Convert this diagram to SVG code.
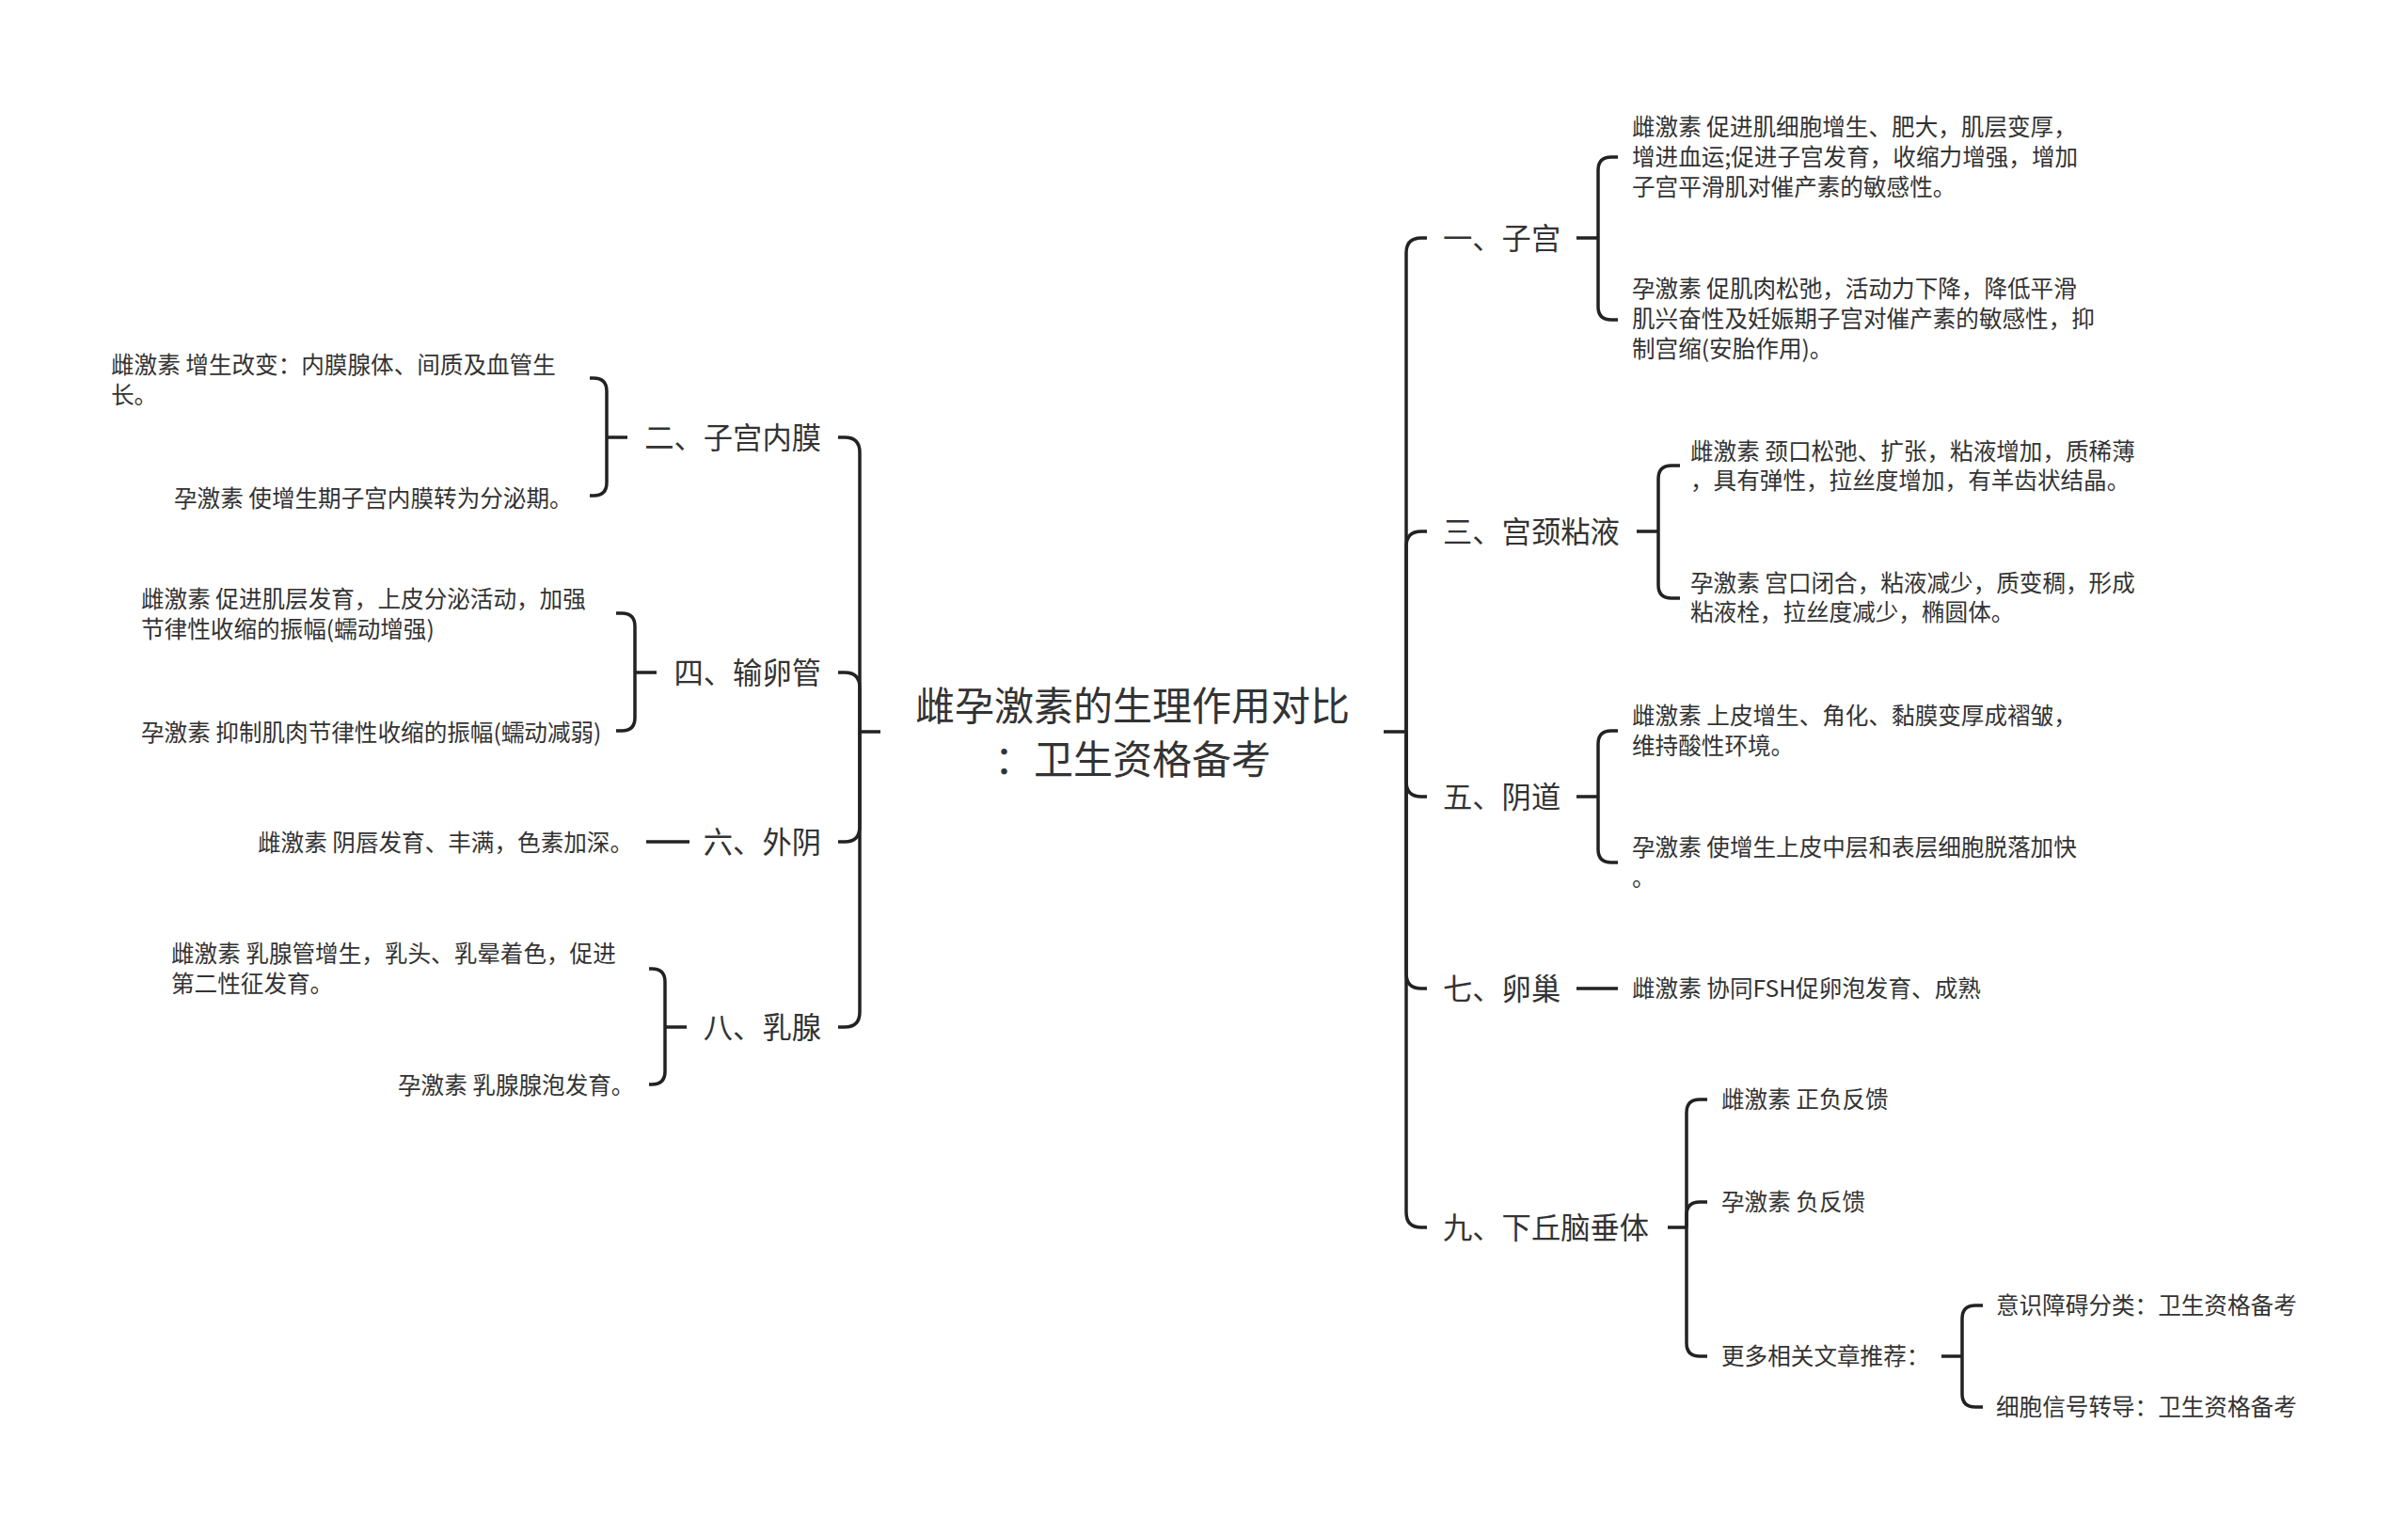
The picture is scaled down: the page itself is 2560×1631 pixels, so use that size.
<svg xmlns="http://www.w3.org/2000/svg" width="2560" height="1631" viewBox="0 0 2560 1631">
<style>
.bg{fill:#ffffff}
.c{fill:none;stroke:#222222;stroke-width:3.5;stroke-linecap:butt}
text{font-family:"Noto Sans CJK SC","Noto Sans",sans-serif;fill:#333333}
.root{font-size:42px;text-anchor:middle}
.n{font-size:31.3px}
.nl{font-size:31.3px;text-anchor:end}
.l{font-size:24.6px}
</style>
<rect class="bg" x="0" y="0" width="2560" height="1631"/>
<g id="connectors">
<path class="c" d="M936 778H914"/>
<path class="c" d="M1471 778H1495"/>
<path class="c" d="M914 778V481Q914 465 898 465H891"/>
<path class="c" d="M914 778V731Q914 715 898 715H891"/>
<path class="c" d="M914 778V879Q914 895 898 895H891"/>
<path class="c" d="M914 778V1076Q914 1092 898 1092H891"/>
<path class="c" d="M1495 778V269Q1495 253 1511 253H1517"/>
<path class="c" d="M1495 778V581Q1495 565 1511 565H1517"/>
<path class="c" d="M1495 778V831Q1495 847 1511 847H1517"/>
<path class="c" d="M1495 778V1035Q1495 1051 1511 1051H1517"/>
<path class="c" d="M1495 778V1289Q1495 1305 1511 1305H1517"/>
<path class="c" d="M667 465H645"/>
<path class="c" d="M645 465V416Q645 402 631 402H627"/>
<path class="c" d="M645 465V513Q645 527 631 527H627"/>
<path class="c" d="M698 715H675"/>
<path class="c" d="M675 715V666Q675 652 661 652H655"/>
<path class="c" d="M675 715V763Q675 777 661 777H655"/>
<path class="c" d="M733 895H687"/>
<path class="c" d="M730 1092H707"/>
<path class="c" d="M707 1092V1044Q707 1030 693 1030H690"/>
<path class="c" d="M707 1092V1139Q707 1153 693 1153H690"/>
<path class="c" d="M1676 253H1699"/>
<path class="c" d="M1699 253V181Q1699 167 1713 167H1720"/>
<path class="c" d="M1699 253V326Q1699 340 1713 340H1720"/>
<path class="c" d="M1740 565H1763"/>
<path class="c" d="M1763 565V509Q1763 495 1777 495H1786"/>
<path class="c" d="M1763 565V622Q1763 636 1777 636H1786"/>
<path class="c" d="M1676 847H1699"/>
<path class="c" d="M1699 847V791Q1699 777 1713 777H1720"/>
<path class="c" d="M1699 847V903Q1699 917 1713 917H1720"/>
<path class="c" d="M1676 1051H1720"/>
<path class="c" d="M1773 1305H1793"/>
<path class="c" d="M1793 1305V1183Q1793 1169 1807 1169H1815"/>
<path class="c" d="M1793 1305V1292Q1793 1278 1807 1278H1815"/>
<path class="c" d="M1793 1305V1428Q1793 1442 1807 1442H1815"/>
<path class="c" d="M2064 1442H2086"/>
<path class="c" d="M2086 1442V1402Q2086 1388 2100 1388H2108"/>
<path class="c" d="M2086 1442V1482Q2086 1496 2100 1496H2108"/>
</g>
<g id="root"><text class="root" x="1204" y="766">雌孕激素的生理作用对比</text><text class="root" x="1204" y="823">：卫生资格备考</text></g>
<g id="n2"><text class="nl" x="873" y="477">二、子宫内膜</text></g>
<g id="n2a"><text class="l" x="118" y="397"><tspan x="118">雌激素 增生改变：内膜腺体、间质及血管生</tspan><tspan x="118" dy="32">长。</tspan></text></g>
<g id="n2b"><text class="l" x="185" y="539">孕激素 使增生期子宫内膜转为分泌期。</text></g>
<g id="n4"><text class="nl" x="873" y="727">四、输卵管</text></g>
<g id="n4a"><text class="l" x="150" y="646"><tspan x="150">雌激素 促进肌层发育，上皮分泌活动，加强</tspan><tspan x="150" dy="32">节律性收缩的振幅(蠕动增强)</tspan></text></g>
<g id="n4b"><text class="l" x="150" y="788">孕激素 抑制肌肉节律性收缩的振幅(蠕动减弱)</text></g>
<g id="n6"><text class="nl" x="873" y="907">六、外阴</text></g>
<g id="n6a"><text class="l" x="274" y="905">雌激素 阴唇发育、丰满，色素加深。</text></g>
<g id="n8"><text class="nl" x="873" y="1104">八、乳腺</text></g>
<g id="n8a"><text class="l" x="182" y="1023"><tspan x="182">雌激素 乳腺管增生，乳头、乳晕着色，促进</tspan><tspan x="182" dy="32">第二性征发育。</tspan></text></g>
<g id="n8b"><text class="l" x="423" y="1163">孕激素 乳腺腺泡发育。</text></g>
<g id="n1"><text class="n" x="1534" y="265">一、子宫</text></g>
<g id="n1a"><text class="l" x="1735" y="144"><tspan x="1735">雌激素 促进肌细胞增生、肥大，肌层变厚，</tspan><tspan x="1735" dy="32">增进血运;促进子宫发育，收缩力增强，增加</tspan><tspan x="1735" dy="32">子宫平滑肌对催产素的敏感性。</tspan></text></g>
<g id="n1b"><text class="l" x="1735" y="316"><tspan x="1735">孕激素 促肌肉松弛，活动力下降，降低平滑</tspan><tspan x="1735" dy="32">肌兴奋性及妊娠期子宫对催产素的敏感性，抑</tspan><tspan x="1735" dy="32">制宫缩(安胎作用)。</tspan></text></g>
<g id="n3"><text class="n" x="1534" y="577">三、宫颈粘液</text></g>
<g id="n3a"><text class="l" x="1797" y="489"><tspan x="1797">雌激素 颈口松弛、扩张，粘液增加，质稀薄</tspan><tspan x="1797" dy="31">，具有弹性，拉丝度增加，有羊齿状结晶。</tspan></text></g>
<g id="n3b"><text class="l" x="1797" y="629"><tspan x="1797">孕激素 宫口闭合，粘液减少，质变稠，形成</tspan><tspan x="1797" dy="31">粘液栓，拉丝度减少，椭圆体。</tspan></text></g>
<g id="n5"><text class="n" x="1534" y="859">五、阴道</text></g>
<g id="n5a"><text class="l" x="1735" y="770"><tspan x="1735">雌激素 上皮增生、角化、黏膜变厚成褶皱，</tspan><tspan x="1735" dy="32">维持酸性环境。</tspan></text></g>
<g id="n5b"><text class="l" x="1735" y="910"><tspan x="1735">孕激素 使增生上皮中层和表层细胞脱落加快</tspan><tspan x="1735" dy="32">。</tspan></text></g>
<g id="n7"><text class="n" x="1534" y="1063">七、卵巢</text></g>
<g id="n7a"><text class="l" x="1735" y="1060">雌激素 协同FSH促卵泡发育、成熟</text></g>
<g id="n9"><text class="n" x="1534" y="1317">九、下丘脑垂体</text></g>
<g id="n9a"><text class="l" x="1830" y="1178">雌激素 正负反馈</text></g>
<g id="n9b"><text class="l" x="1830" y="1287">孕激素 负反馈</text></g>
<g id="n9c"><text class="l" x="1830" y="1451">更多相关文章推荐：</text></g>
<g id="n9c1"><text class="l" x="2122" y="1397">意识障碍分类：卫生资格备考</text></g>
<g id="n9c2"><text class="l" x="2122" y="1505">细胞信号转导：卫生资格备考</text></g>
</svg>
